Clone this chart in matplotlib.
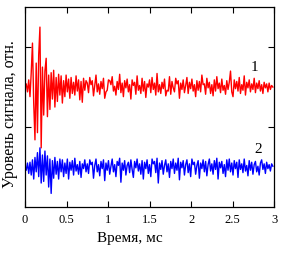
import numpy as np
import matplotlib.pyplot as plt

plt.rcParams['font.family'] = ['Liberation Serif', 'DejaVu Serif']

# sampling step, ms
dt = 0.015

# signal 1 (red), deviation from base level, in 0.01 rel. units
base1 = 1.5
sig1 = [0, 4, -6, 9, -12, 18, 55, -20, -66, 30,
        -57, 40, 75, -76, 25, -35, 20, 36, -37, 15,
        -28, 18, -15, 21, -25, 12, -18, 16, -10, 14,
        -20, 8, -12, 15, -6, 10, -14, 12, -8, 6,
        -10, 14, -5, 9, -16, 7, -19, 11, -4, 8,
        5, -7, 12, 3, 8, -11, 2, 15, -6, 4,
        -9, 7, -2, 11, -14, -6, -4, 9, 8, 3,
        13, -5, 1, -10, 7, -3, 16, -7, 5, -12,
        8, -1, 10, -6, 3, -15, 9, 2, 6, -9,
        14, -4, 2, -8, 11, -5, 7, -13, 4, 0,
        9, -7, 12, -3, 5, -10, 17, -6, 3, -8,
        6, -2, 10, -11, -4, -5, 13, -9, 7, -1,
        -6, 11, 4, 8, -14, 5, -3, 9, -7, 2,
        12, -8, 6, -2, 10, -5, 3, -12, 8, -4,
        7, -6, 15, 3, 4, -9, 11, -1, 6, -8,
        3, -11, 9, -5, 13, -2, 5, -7, 10, -4,
        2, -9, 8, -3, 6, 20, -6, -12, 9, -2,
        7, -5, 12, -8, 3, -4, 14, -10, 6, -1,
        9, -6, 4, -3, 11, -7, 5, -2, 8, -5,
        3, -8, 6, -1, 4, -6, 5, -3, 2, 0]

# signal 2 (blue)
base2 = 0.5
sig2 = [2, -4, 5, -8, 6, -10, 9, -15, 12, -6,
        18, -12, 24, -20, 15, -18, 20, -10, 14, -25,
        10, -33, 8, -14, 12, -9, 7, -15, 10, -6,
        9, -12, 5, -8, 10, -15, 6, -4, 8, -10,
        11, -5, 3, -9, 7, -13, 4, -2, 9, -6,
        4, -8, 9, 3, 6, -14, 2, 10, -6, 3,
        -11, 7, -2, 9, -17, 5, -4, 8, -9, 1,
        10, -6, 3, -12, 7, 2, 11, -19, 5, -4,
        8, -10, 2, 6, -7, 9, -3, -13, 7, -1,
        10, -5, 4, -9, 8, -15, 6, -2, 9, -8,
        3, -12, 10, 4, 7, -7, 11, -20, 5, -3,
        8, -9, 2, 9, -6, 4, -13, 7, -2, 10,
        -8, 5, -4, 11, -16, 6, -1, 8, -10, 3,
        9, -7, 4, -12, 10, 3, 6, -9, 2, 8,
        -14, 5, -2, 9, -6, 7, -11, 3, 10, -5,
        4, -9, 8, -3, 11, -15, 6, -1, 7, -8,
        3, -12, 9, -4, 10, -6, 5, -10, 8, -2,
        6, -13, 9, -3, 4, -7, 10, -5, 2, -11,
        8, -4, 6, -9, 3, 7, -6, 1, -10, 5,
        9, -3, 4, -8, 6, -2, 3, -5, 4, 1]

t = np.arange(len(sig1)) * dt
y1 = base1 + np.array(sig1) / 100
y2 = base2 + np.array(sig2) / 100

fig = plt.figure(figsize=(2.89, 2.54), dpi=100)
ax = fig.add_axes([0.0865, 0.185, 0.862, 0.787])
ax.plot(t, y1, color='red', lw=1.0)
ax.plot(t, y2, color='blue', lw=1.0)

ax.text(2.72, 1.7, '1', fontsize=11)
ax.text(2.76, 0.68, '2', fontsize=11)

ax.set_xlim(0, 3)
ax.set_ylim(0, 2.5)
ax.set_xticks([0, 0.5, 1, 1.5, 2, 2.5, 3])
ax.set_xticklabels(['0', '0.5', '1', '1.5', '2', '2.5', '3'])
ax.set_yticks([1, 2])
ax.set_yticklabels([])
ax.tick_params(direction='in', top=True, right=True, labelsize=9, length=4,
               width=0.8, pad=5)
for s in ax.spines.values():
    s.set_linewidth(0.9)
ax.set_xlabel('Время, мс', fontsize=11)
ax.xaxis.set_label_coords(0.42, -0.125)
ax.set_ylabel('Уровень сигнала, отн.', fontsize=11.5)
ax.yaxis.set_label_coords(-0.028, 0.465)

fig.savefig('out.png', dpi=100)
